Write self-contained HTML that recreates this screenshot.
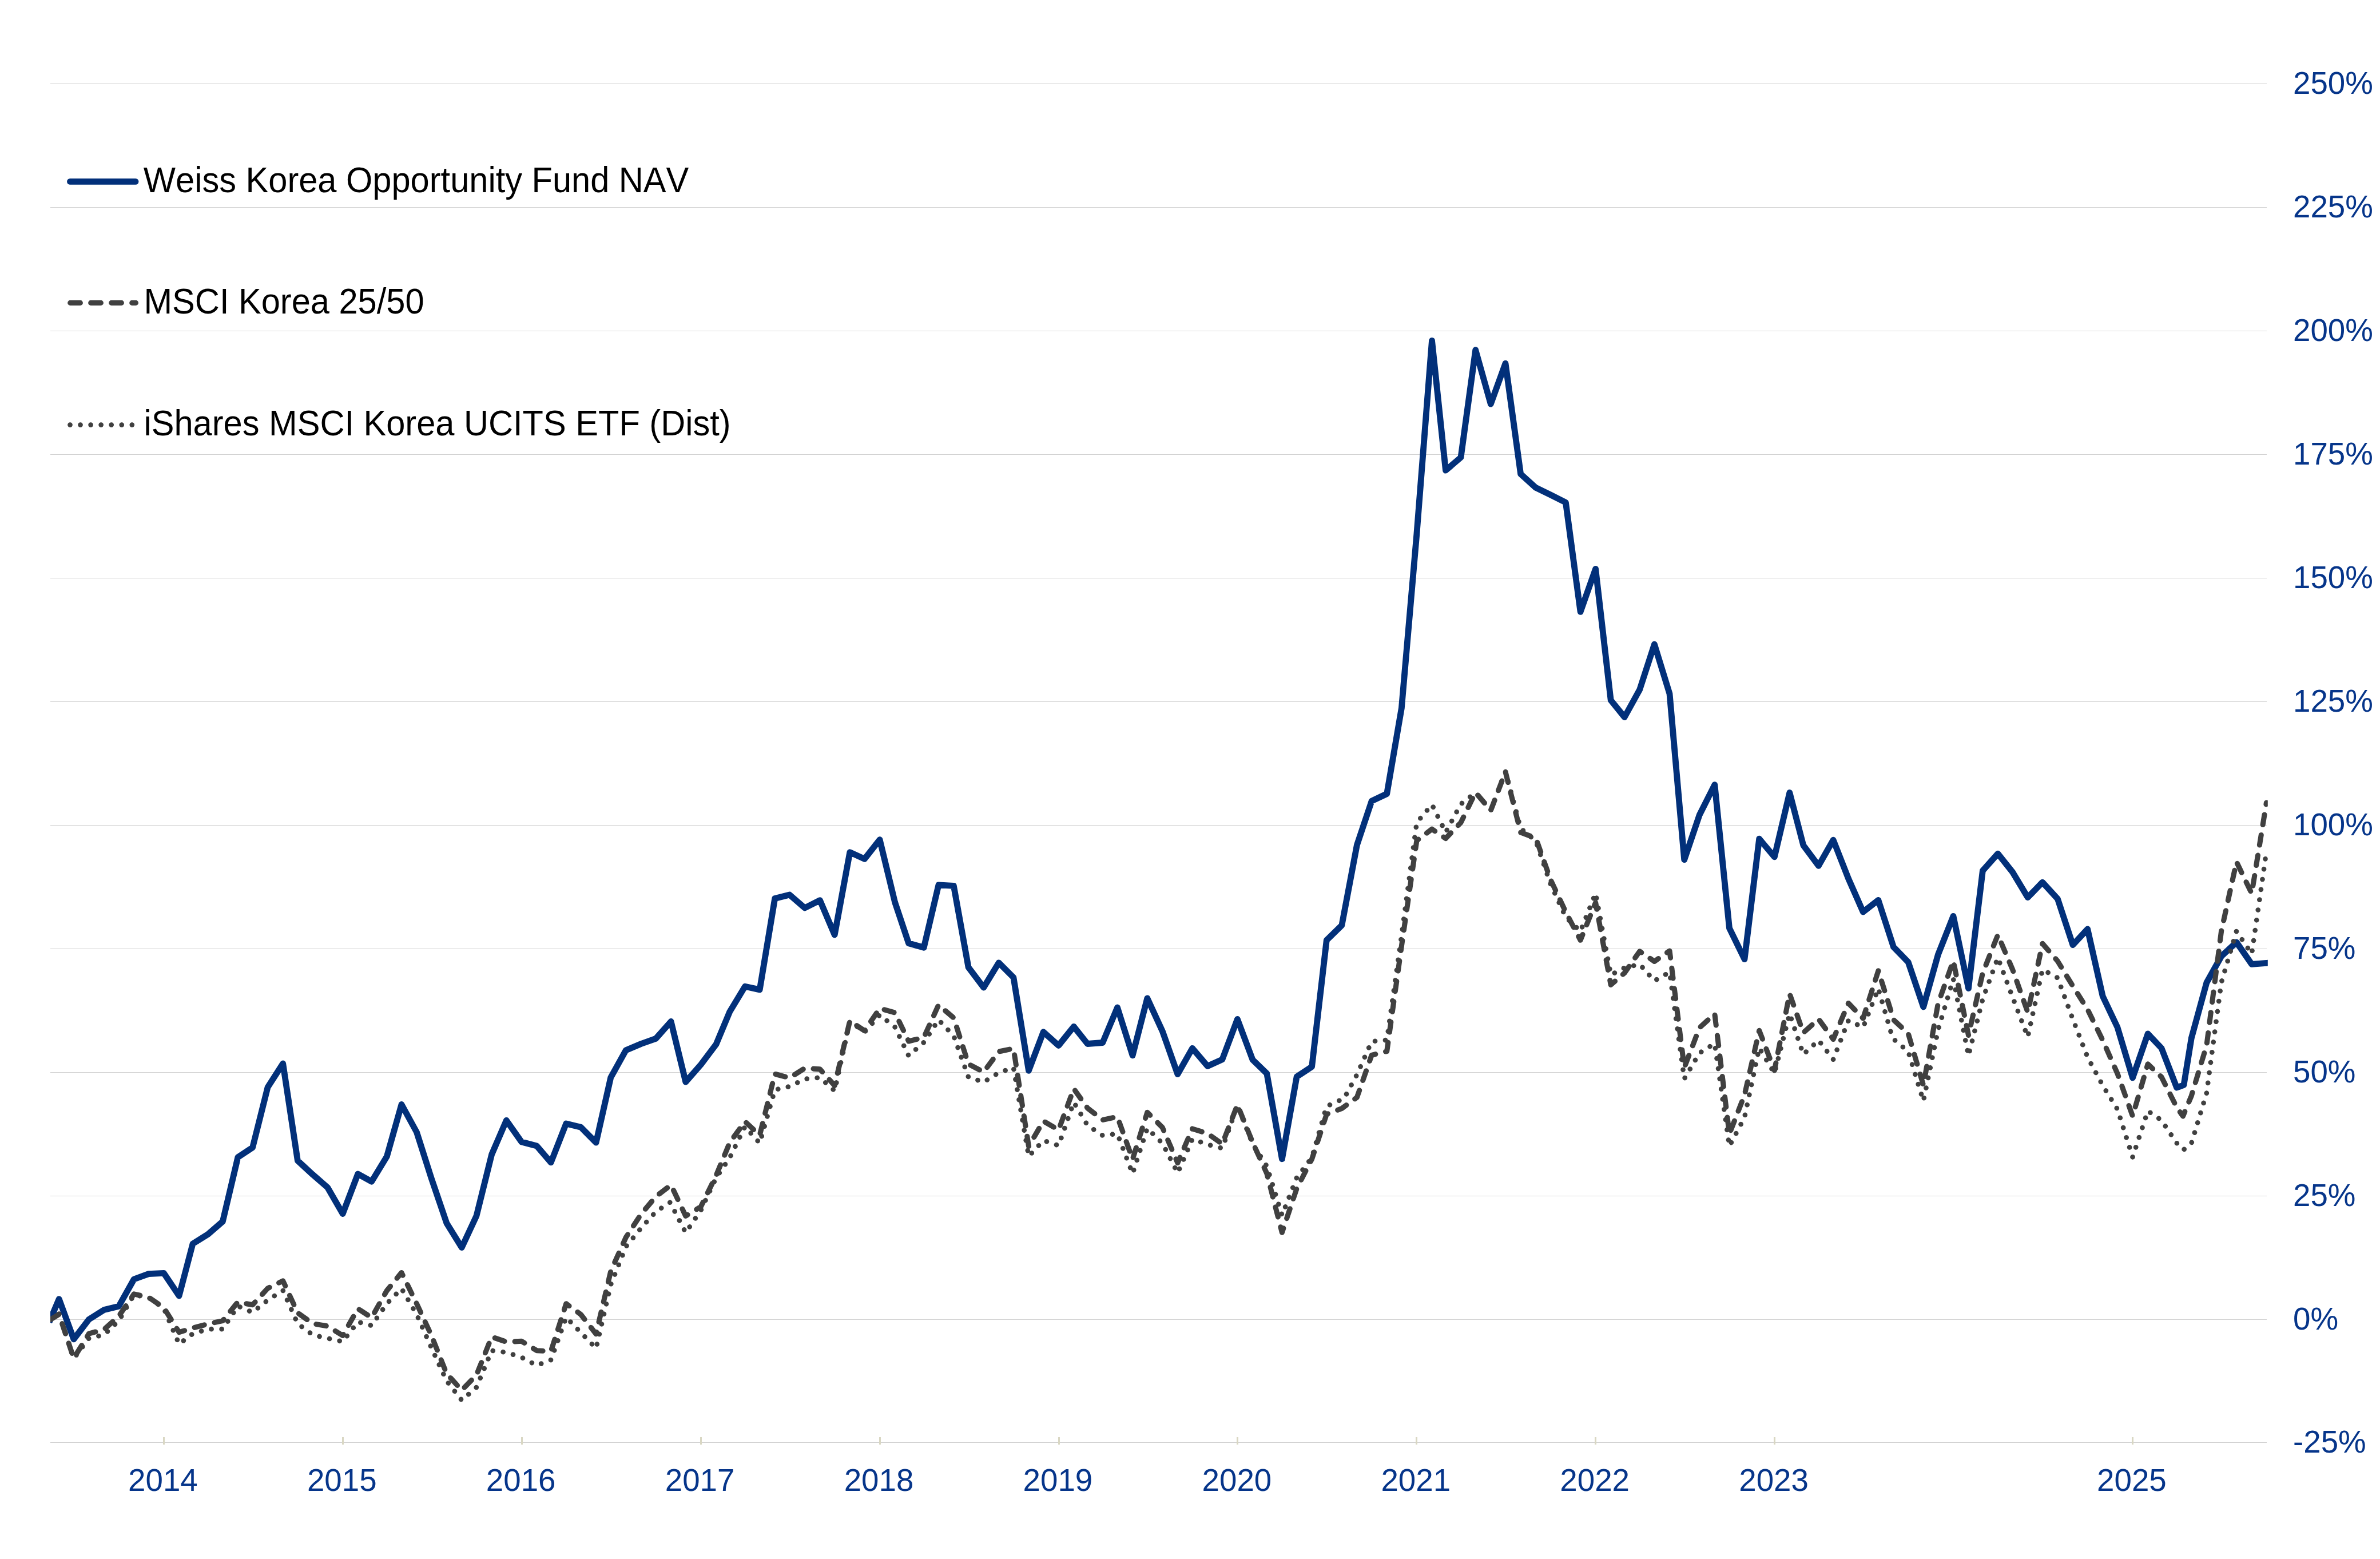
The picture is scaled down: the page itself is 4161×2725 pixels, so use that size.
<!DOCTYPE html>
<html><head><meta charset="utf-8"><title>Weiss Korea Opportunity Fund NAV vs MSCI Korea</title>
<style>
html,body{margin:0;padding:0;background:#fff;}
body{width:4161px;height:2725px;overflow:hidden;}
svg{display:block;}
text{font-family:"Liberation Sans",Arial,Helvetica,sans-serif;}
.ax{font-size:54.7px;fill:#06358a;}
.lg{font-size:59.58px;fill:#000;font-kerning:none;}
</style></head><body>
<svg width="4161" height="2725" viewBox="0 0 4161 2725">
<rect width="4161" height="2725" fill="#fff"/>
<defs><clipPath id="plot"><rect x="88" y="100" width="3876.8" height="2440"/></clipPath></defs>

<g fill="#d0d0d0" shape-rendering="crispEdges">
<rect x="88" y="146" width="3875" height="1"/>
<rect x="88" y="362" width="3875" height="1"/>
<rect x="88" y="578" width="3875" height="1"/>
<rect x="88" y="794" width="3875" height="1"/>
<rect x="88" y="1010" width="3875" height="1"/>
<rect x="88" y="1226" width="3875" height="1"/>
<rect x="88" y="1442" width="3875" height="1"/>
<rect x="88" y="1658" width="3875" height="1"/>
<rect x="88" y="1874" width="3875" height="1"/>
<rect x="88" y="2090" width="3875" height="1"/>
<rect x="88" y="2306" width="3875" height="1"/>
</g>
<rect x="88" y="2521" width="3875" height="1" fill="#cccccc" shape-rendering="crispEdges"/>
<g fill="#d9d7c3" shape-rendering="crispEdges">
<rect x="285" y="2512" width="3" height="13"/>
<rect x="598" y="2512" width="3" height="13"/>
<rect x="911" y="2512" width="3" height="13"/>
<rect x="1224" y="2512" width="3" height="13"/>
<rect x="1537" y="2512" width="3" height="13"/>
<rect x="1850" y="2512" width="3" height="13"/>
<rect x="2162" y="2512" width="3" height="13"/>
<rect x="2475" y="2512" width="3" height="13"/>
<rect x="2788" y="2512" width="3" height="13"/>
<rect x="3101" y="2512" width="3" height="13"/>
<rect x="3727" y="2512" width="3" height="13"/>
</g>
<g clip-path="url(#plot)" fill="none" stroke-linejoin="round">
<path d="M86.0,2311.2 L103.2,2270.6 L128.9,2340.9 L155.4,2306.3 L182.0,2289.5 L207.7,2283.2 L234.2,2236.0 L259.9,2226.6 L286.5,2225.4 L313.1,2265.0 L337.0,2174.0 L363.6,2157.4 L389.3,2135.2 L415.9,2022.8 L441.6,2005.7 L468.1,1900.3 L494.7,1859.0 L520.4,2028.7 L546.9,2053.2 L572.6,2075.5 L599.2,2121.5 L625.7,2052.0 L649.7,2065.3 L676.3,2021.5 L702.0,1930.5 L728.5,1979.0 L754.2,2059.6 L780.8,2137.8 L807.3,2180.6 L833.0,2125.2 L859.6,2018.0 L885.3,1958.3 L911.9,1996.1 L938.4,2002.9 L963.2,2031.9 L989.8,1963.9 L1015.5,1970.2 L1042.1,1997.1 L1067.8,1883.3 L1094.3,1835.7 L1120.9,1824.5 L1146.6,1815.3 L1173.1,1785.5 L1198.8,1891.1 L1225.4,1860.8 L1251.9,1825.6 L1275.9,1768.2 L1302.5,1724.3 L1328.2,1729.9 L1354.7,1570.6 L1380.4,1564.0 L1407.0,1587.0 L1433.5,1573.6 L1459.2,1634.1 L1485.8,1489.7 L1511.5,1501.3 L1538.1,1467.7 L1564.6,1577.0 L1588.6,1648.7 L1615.2,1656.3 L1640.9,1546.9 L1667.4,1548.4 L1693.1,1690.8 L1719.7,1726.1 L1746.2,1682.8 L1771.9,1708.5 L1798.5,1871.3 L1824.2,1803.7 L1850.7,1827.5 L1877.3,1794.3 L1901.3,1824.5 L1927.8,1822.5 L1953.5,1761.0 L1980.1,1844.8 L2005.8,1744.8 L2032.3,1802.4 L2058.9,1877.6 L2084.6,1832.3 L2111.2,1863.5 L2136.9,1851.8 L2163.4,1781.3 L2190.0,1852.3 L2214.8,1876.3 L2241.4,2025.8 L2267.1,1882.1 L2293.6,1864.4 L2319.3,1643.3 L2345.9,1617.3 L2372.4,1477.0 L2398.1,1400.1 L2424.7,1387.5 L2450.4,1237.6 L2476.9,933.0 L2503.5,595.3 L2527.5,822.2 L2554.0,799.5 L2579.7,611.7 L2606.3,706.2 L2632.0,635.1 L2658.6,828.5 L2685.1,852.4 L2710.8,864.8 L2737.4,878.2 L2763.1,1069.4 L2789.6,994.3 L2816.2,1223.8 L2840.2,1253.5 L2866.7,1205.3 L2892.4,1126.1 L2919.0,1212.7 L2944.7,1502.7 L2971.2,1424.5 L2997.8,1371.6 L3023.5,1622.4 L3050.0,1676.6 L3075.7,1466.1 L3102.3,1497.9 L3128.8,1385.4 L3152.8,1477.5 L3179.4,1513.3 L3205.1,1468.1 L3231.6,1535.7 L3257.3,1594.0 L3283.9,1573.3 L3310.5,1655.3 L3336.2,1681.8 L3362.7,1760.0 L3388.4,1668.5 L3415.0,1601.3 L3441.5,1727.5 L3466.4,1521.9 L3492.9,1492.2 L3518.6,1524.4 L3545.2,1568.6 L3570.9,1542.1 L3597.4,1571.1 L3624.0,1651.7 L3649.7,1624.0 L3676.2,1741.3 L3701.9,1795.5 L3728.5,1883.9 L3755.1,1806.9 L3779.0,1832.1 L3805.6,1901.0 L3818.0,1896.5 L3831.3,1814.5 L3857.9,1717.5 L3883.6,1671.5 L3910.1,1646.9 L3936.7,1685.4 L3962.4,1683.3 L3972.0,1683.0" stroke="#02307a" stroke-width="10.8" stroke-linecap="butt"/>
<path d="M88.0,2306.5 L103.2,2297.2 L128.9,2374.3 L155.4,2331.2 L182.0,2323.7 L207.7,2300.5 L234.2,2261.9 L259.9,2267.7 L286.5,2285.9 L313.1,2328.7 L337.0,2321.2 L363.6,2314.1 L389.3,2308.6 L415.9,2275.8 L441.6,2280.8 L468.1,2251.8 L494.7,2238.8 L520.4,2294.7 L546.9,2313.6 L572.6,2318.0 L599.2,2334.5 L625.7,2287.5 L649.7,2303.0 L676.3,2256.0 L702.0,2224.5 L728.5,2278.7 L754.2,2334.2 L780.8,2401.0 L807.3,2430.0 L833.0,2403.5 L859.6,2336.7 L885.3,2345.5 L911.9,2344.3 L938.4,2360.7 L963.2,2361.9 L989.8,2278.7 L1015.5,2297.6 L1042.1,2331.7 L1067.8,2222.0 L1094.3,2162.8 L1120.9,2122.2 L1146.6,2091.5 L1173.1,2071.3 L1198.8,2125.5 L1225.4,2109.1 L1251.9,2054.9 L1275.9,1997.0 L1302.5,1960.4 L1328.2,1984.4 L1354.7,1877.2 L1380.4,1884.0 L1407.0,1867.1 L1433.5,1868.9 L1459.2,1897.4 L1485.8,1784.7 L1511.5,1801.6 L1538.1,1762.5 L1564.6,1770.1 L1588.6,1820.0 L1615.2,1813.3 L1640.9,1756.6 L1667.4,1779.2 L1693.1,1859.9 L1719.7,1873.8 L1746.2,1838.0 L1771.9,1832.7 L1798.5,2003.6 L1824.2,1959.5 L1850.7,1975.1 L1877.3,1903.0 L1901.3,1936.8 L1927.8,1957.5 L1953.5,1951.9 L1980.1,2026.3 L2005.8,1944.3 L2032.3,1970.8 L2058.9,2032.6 L2084.6,1973.0 L2111.2,1981.3 L2136.9,1999.5 L2163.4,1931.2 L2190.0,1996.8 L2214.8,2051.0 L2241.4,2154.3 L2267.1,2077.5 L2293.6,2025.8 L2319.3,1947.6 L2345.9,1937.5 L2372.4,1918.1 L2398.1,1844.3 L2424.7,1837.5 L2450.4,1653.3 L2476.9,1469.3 L2503.5,1449.2 L2527.5,1465.5 L2554.0,1437.8 L2579.7,1385.0 L2606.3,1416.5 L2632.0,1349.2 L2658.6,1455.0 L2685.1,1465.0 L2710.8,1537.4 L2737.4,1594.1 L2763.1,1643.3 L2789.6,1577.7 L2816.2,1721.4 L2840.2,1700.6 L2866.7,1662.8 L2892.4,1680.4 L2919.0,1662.0 L2944.7,1866.0 L2971.2,1796.5 L2997.8,1772.0 L3023.5,1982.0 L3050.0,1913.9 L3075.7,1801.3 L3102.3,1871.0 L3128.8,1737.1 L3152.8,1805.2 L3179.4,1781.2 L3205.1,1816.5 L3231.6,1753.5 L3257.3,1780.0 L3283.9,1696.8 L3311.0,1783.0 L3336.2,1806.5 L3362.7,1897.0 L3388.4,1754.0 L3415.0,1679.5 L3441.5,1809.5 L3466.4,1700.9 L3492.9,1634.1 L3518.6,1694.6 L3545.2,1769.5 L3570.9,1649.2 L3597.4,1680.0 L3624.0,1723.6 L3649.7,1764.3 L3676.2,1818.2 L3701.9,1876.3 L3728.5,1950.7 L3755.1,1859.9 L3779.0,1882.6 L3805.6,1935.5 L3816.5,1951.0 L3831.3,1915.4 L3857.9,1827.1 L3883.6,1627.6 L3910.1,1506.5 L3936.7,1561.7 L3962.4,1403.1" stroke="#404040" stroke-width="9.1" stroke-linecap="round" stroke-dasharray="17.7 18.3"/>
<path d="M88.0,2306.5 L103.2,2296.5 L128.9,2374.6 L155.4,2339.3 L182.0,2333.0 L207.7,2308.6 L234.2,2263.2 L259.9,2268.2 L286.5,2287.1 L313.1,2349.4 L337.0,2331.2 L363.6,2323.2 L389.3,2323.2 L415.9,2282.8 L441.6,2294.0 L468.1,2272.5 L494.7,2255.6 L520.4,2313.6 L546.9,2333.3 L572.6,2339.2 L599.2,2345.0 L625.7,2310.5 L649.7,2317.0 L676.3,2278.7 L702.0,2252.3 L728.5,2297.6 L754.2,2355.6 L780.8,2413.6 L807.3,2447.6 L833.0,2424.9 L859.6,2360.7 L885.3,2363.9 L911.9,2372.5 L938.4,2386.6 L963.2,2377.0 L989.8,2302.7 L1015.5,2329.1 L1042.1,2356.9 L1067.8,2245.5 L1094.3,2179.2 L1120.9,2146.4 L1146.6,2118.0 L1171.5,2101.6 L1198.8,2154.5 L1225.4,2115.4 L1251.9,2058.7 L1275.9,2023.4 L1302.5,1969.2 L1328.2,1998.2 L1354.7,1904.9 L1380.4,1899.1 L1407.0,1886.0 L1433.5,1883.5 L1459.2,1906.7 L1485.8,1785.2 L1511.5,1804.1 L1538.1,1773.9 L1564.6,1795.3 L1588.6,1845.3 L1615.2,1822.0 L1640.9,1782.5 L1667.4,1810.7 L1693.1,1882.6 L1719.7,1891.4 L1746.2,1875.0 L1771.9,1866.2 L1798.5,2021.2 L1824.2,1993.5 L1850.7,2002.3 L1877.3,1926.7 L1901.3,1967.0 L1927.8,1984.7 L1953.5,1981.7 L1980.1,2051.5 L2005.8,1972.1 L2032.3,1998.5 L2058.9,2050.2 L2084.6,1991.0 L2111.2,2000.5 L2136.9,2007.0 L2163.4,1932.5 L2190.0,1999.3 L2214.8,2038.4 L2241.4,2124.1 L2267.1,2058.5 L2293.6,2023.3 L2319.3,1933.8 L2349.9,1919.9 L2372.4,1878.3 L2398.1,1820.3 L2424.7,1817.8 L2450.4,1635.7 L2476.9,1437.8 L2503.5,1406.4 L2527.5,1455.0 L2554.0,1405.5 L2579.7,1385.5 L2606.3,1416.5 L2632.0,1348.5 L2658.6,1448.0 L2685.1,1470.0 L2710.8,1545.0 L2737.4,1603.0 L2763.1,1628.0 L2789.6,1561.3 L2816.2,1704.0 L2840.2,1691.7 L2866.7,1685.4 L2892.4,1714.4 L2919.0,1699.3 L2944.7,1885.7 L2971.2,1840.6 L2997.8,1824.0 L3023.5,2003.4 L3050.0,1953.0 L3075.7,1831.8 L3102.3,1876.1 L3128.8,1772.0 L3152.8,1843.0 L3179.4,1818.3 L3205.1,1851.8 L3231.6,1783.8 L3257.3,1795.6 L3283.9,1727.8 L3309.0,1815.0 L3336.2,1838.0 L3362.7,1924.5 L3388.4,1800.0 L3415.0,1711.0 L3441.5,1845.3 L3466.4,1746.3 L3492.9,1674.0 L3518.6,1743.0 L3545.2,1812.5 L3570.9,1694.6 L3597.4,1709.2 L3624.0,1781.6 L3649.7,1847.8 L3676.2,1897.2 L3701.9,1938.8 L3728.5,2022.5 L3755.1,1941.8 L3779.0,1958.2 L3805.6,1998.0 L3817.3,2009.9 L3831.3,1998.5 L3857.9,1910.3 L3883.6,1717.4 L3910.1,1627.6 L3936.7,1667.4 L3962.4,1489.1" stroke="#404040" stroke-width="8.7" stroke-linecap="round" stroke-dasharray="0.01 18"/>
</g>
<line x1="122.5" y1="317.4" x2="237" y2="317.4" stroke="#02307a" stroke-width="10.8" stroke-linecap="round"/>
<line x1="122.7" y1="529.4" x2="237.5" y2="529.4" stroke="#404040" stroke-width="9.1" stroke-linecap="round" stroke-dasharray="17.7 18.3"/>
<line x1="122.5" y1="742.6" x2="231.5" y2="742.6" stroke="#404040" stroke-width="8.7" stroke-linecap="round" stroke-dasharray="0.01 18.04"/>
<text class="lg" transform="translate(250.8,336.4) scale(1,1.05)">Weiss Korea Opportunity Fund NAV</text>
<text class="lg" transform="translate(251.5,548.2) scale(1,1.05)">MSCI Korea 25/50</text>
<text class="lg" transform="translate(251.5,760.8) scale(1,1.05)">iShares MSCI Korea UCITS ETF (Dist)</text>
<text class="ax" x="4009" y="163.8">250%</text>
<text class="ax" x="4009" y="379.8">225%</text>
<text class="ax" x="4009" y="595.8">200%</text>
<text class="ax" x="4009" y="811.8">175%</text>
<text class="ax" x="4009" y="1027.8">150%</text>
<text class="ax" x="4009" y="1243.8">125%</text>
<text class="ax" x="4009" y="1459.8">100%</text>
<text class="ax" x="4009" y="1675.8">75%</text>
<text class="ax" x="4009" y="1891.8">50%</text>
<text class="ax" x="4009" y="2107.8">25%</text>
<text class="ax" x="4009" y="2323.8">0%</text>
<text class="ax" x="4009" y="2538.8">-25%</text>
<text class="ax" x="284.9" y="2605.6" text-anchor="middle">2014</text>
<text class="ax" x="597.8" y="2605.6" text-anchor="middle">2015</text>
<text class="ax" x="910.7" y="2605.6" text-anchor="middle">2016</text>
<text class="ax" x="1223.6" y="2605.6" text-anchor="middle">2017</text>
<text class="ax" x="1536.5" y="2605.6" text-anchor="middle">2018</text>
<text class="ax" x="1849.4" y="2605.6" text-anchor="middle">2019</text>
<text class="ax" x="2162.4" y="2605.6" text-anchor="middle">2020</text>
<text class="ax" x="2475.3" y="2605.6" text-anchor="middle">2021</text>
<text class="ax" x="2788.2" y="2605.6" text-anchor="middle">2022</text>
<text class="ax" x="3101.1" y="2605.6" text-anchor="middle">2023</text>
<text class="ax" x="3726.9" y="2605.6" text-anchor="middle">2025</text>
</svg></body></html>
